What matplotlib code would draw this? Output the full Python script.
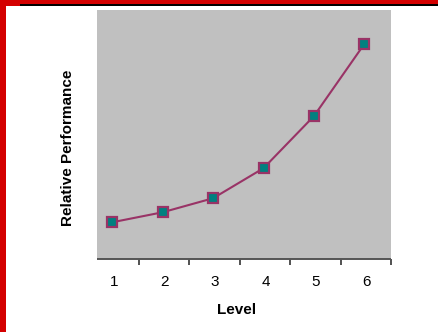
import matplotlib
matplotlib.use('Agg')
import matplotlib.pyplot as plt
import matplotlib.transforms as mtransforms
from matplotlib.patches import Rectangle
import numpy as np

# data
levels = [1, 2, 3, 4, 5, 6]
tick_labels = ['1', '2', '3', '4', '5', '6']
performance = [37, 47, 61, 91, 143, 215]

plt.rcParams['font.family'] = ['Liberation Sans', 'DejaVu Sans']

fig = plt.figure(figsize=(4.38, 3.32), dpi=100)

# slide-style frame: red bars on top and left, thin black rule
fig.patches.append(Rectangle((0, 0), 6 / 438, 1, transform=fig.transFigure,
                             facecolor='#d40000', edgecolor='none'))
fig.patches.append(Rectangle((0, 1 - 4 / 332), 1, 4 / 332, transform=fig.transFigure,
                             facecolor='#d40000', edgecolor='none'))
fig.patches.append(Rectangle((0, 1 - 6 / 332), 20 / 438, 6 / 332, transform=fig.transFigure,
                             facecolor='#d40000', edgecolor='none'))
fig.patches.append(Rectangle((20 / 438, 1 - 6 / 332), 1, 2 / 332, transform=fig.transFigure,
                             facecolor='black', edgecolor='none'))

ax = fig.add_axes([96.7 / 438, 72.7 / 332, 294.3 / 438, 249.3 / 332])
ax.set_facecolor('#c0c0c0')

ax.plot(levels, performance, color='#993366', linewidth=1.5,
        marker='s', markersize=7.5, markerfacecolor='#008080',
        markeredgecolor='#993366', markeredgewidth=1.6)

ax.set_xlim(0.69, 6.53)
ax.set_ylim(0, 249)

for side in ['left', 'top', 'right']:
    ax.spines[side].set_visible(False)
ax.spines['bottom'].set_color('#555555')
ax.spines['bottom'].set_linewidth(1.4)
ax.spines['bottom'].set_capstyle('butt')

ax.set_yticks([])
ax.set_xticks(levels)
ax.set_xticklabels(tick_labels, fontsize=11)
ax.tick_params(axis='x', which='major', length=0, pad=11)
ax.set_xticks(np.arange(1.53, 6.6, 1.0), minor=True)
ax.tick_params(axis='x', which='minor', length=4, width=1.2, color='#333333', direction='out')

# labels sit a touch right of the category centres in the original
shift = mtransforms.ScaledTranslation(2 / 100, 0, fig.dpi_scale_trans)
for lbl in ax.get_xticklabels():
    lbl.set_transform(lbl.get_transform() + shift)

fig.text(237 / 438, 1 - 310.5 / 332, 'Level', fontsize=11, fontweight='bold',
         ha='center', va='center')
fig.text(67.5 / 438, 1 - 147.5 / 332, 'Relative Performance', fontsize=11,
         fontweight='bold', rotation=90, ha='center', va='center')

fig.savefig('out.png', dpi=100)
